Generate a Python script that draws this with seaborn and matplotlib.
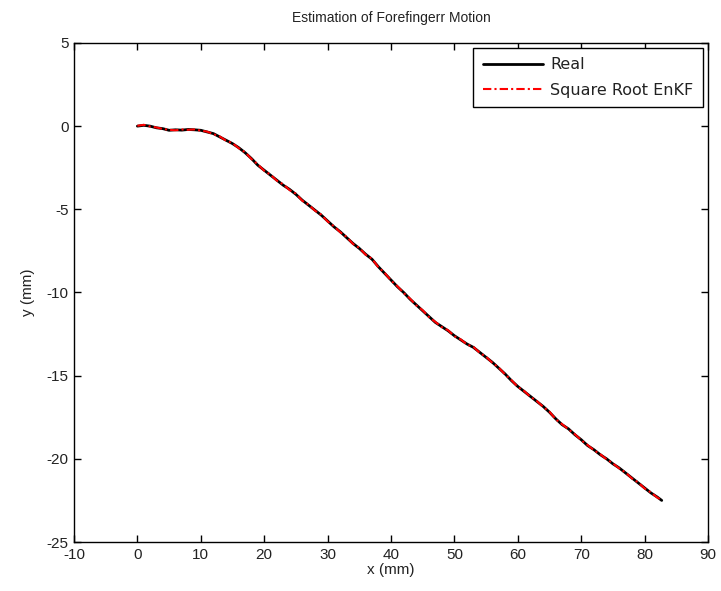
import numpy as np
import pandas as pd
import matplotlib
matplotlib.use("Agg")
import matplotlib.pyplot as plt
import seaborn as sns

# Data (x, y in mm)

x_real = [0, 1, 2, 3, 4, 5, 6, 7, 8, 9, 10, 11, 12, 13, 14, 15, 16, 17, 18, 19,
          20, 21, 22, 23, 24, 25, 26, 27, 28, 29, 30, 31, 32, 33, 34, 35, 36, 37, 38, 39,
          40, 41, 42, 43, 44, 45, 46, 47, 48, 49, 50, 51, 52, 53, 54, 55, 56, 57, 58, 59,
          60, 61, 62, 63, 64, 65, 66, 67, 68, 69, 70, 71, 72, 73, 74, 75, 76, 77, 78, 79,
          80, 81, 82, 82.7]

y_real = [0.0, 0.05, 0.0, -0.1, -0.15, -0.25, -0.22, -0.24, -0.2, -0.22,
          -0.25, -0.35, -0.45, -0.65, -0.85, -1.05, -1.3, -1.6, -1.95, -2.35,
          -2.65, -2.95, -3.25, -3.55, -3.8, -4.1, -4.45, -4.75, -5.05, -5.35,
          -5.7, -6.05, -6.35, -6.7, -7.05, -7.35, -7.7, -8.0, -8.45, -8.85,
          -9.25, -9.65, -10.0, -10.4, -10.75, -11.1, -11.45, -11.8, -12.05, -12.3,
          -12.6, -12.85, -13.1, -13.3, -13.6, -13.9, -14.2, -14.55, -14.9, -15.3,
          -15.65, -15.95, -16.25, -16.55, -16.85, -17.2, -17.6, -17.95, -18.2, -18.55,
          -18.85, -19.2, -19.45, -19.75, -20.0, -20.3, -20.55, -20.85, -21.15, -21.45,
          -21.75, -22.05, -22.3, -22.5]

x_est = x_real

y_est = [0.02, 0.08, -0.02, -0.08, -0.17, -0.22, -0.25, -0.2, -0.22, -0.2,
         -0.27, -0.33, -0.48, -0.62, -0.88, -1.02, -1.33, -1.57, -1.98, -2.3,
         -2.68, -2.92, -3.28, -3.5, -3.84, -4.06, -4.48, -4.72, -5.08, -5.32,
         -5.73, -6.02, -6.38, -6.66, -7.08, -7.32, -7.73, -7.97, -8.48, -8.82,
         -9.28, -9.62, -10.03, -10.37, -10.78, -11.07, -11.48, -11.77, -12.08, -12.27,
         -12.63, -12.82, -13.13, -13.27, -13.63, -13.87, -14.23, -14.52, -14.93, -15.27,
         -15.68, -15.92, -16.28, -16.52, -16.88, -17.17, -17.63, -17.92, -18.23, -18.52,
         -18.88, -19.17, -19.48, -19.72, -20.03, -20.27, -20.58, -20.82, -21.18, -21.42,
         -21.78, -22.02, -22.33, -22.48]

x_ticks = [-10, 0, 10, 20, 30, 40, 50, 60, 70, 80, 90]
y_ticks = [-25, -20, -15, -10, -5, 0, 5]

df_real = pd.DataFrame({"x": x_real, "y": y_real})
df_est = pd.DataFrame({"x": x_est, "y": y_est})

sns.set_style("ticks")
plt.rcParams["font.family"] = ["Liberation Sans", "DejaVu Sans"]
plt.rcParams["axes.unicode_minus"] = False

fig = plt.figure(figsize=(7.21, 5.91), dpi=100)
ax = fig.add_axes([0.1026, 0.0829, 0.8794, 0.8444])

sns.lineplot(data=df_real, x="x", y="y", sort=False, estimator=None,
             color="black", linewidth=2.0, label="Real", ax=ax)
sns.lineplot(data=df_est, x="x", y="y", sort=False, estimator=None,
             color="red", linewidth=1.5, label="Square Root EnKF", ax=ax)
ax.lines[1].set_dashes([4, 1.5, 1, 1.5])

ax.set_xlim(-10, 90)
ax.set_ylim(-25, 5)
ax.set_xticks(x_ticks)
ax.set_yticks(y_ticks)
ax.tick_params(direction="in", top=True, right=True, length=5, width=1,
               labelsize=11, color="black", labelcolor="#222222", pad=4)
for s in ax.spines.values():
    s.set_visible(True)
    s.set_color("black")
    s.set_linewidth(1.0)

ax.set_xlabel("x (mm)", fontsize=11, labelpad=1, color="#222222")
ax.set_ylabel("y (mm)", fontsize=11, labelpad=8, color="#222222")
ax.set_title("Estimation of Forefingerr Motion", fontsize=10, pad=15, color="#222222")

leg = ax.legend(loc="upper right", frameon=True, fancybox=False,
                prop={"family": "DejaVu Sans", "size": 11.5},
                edgecolor="black", handlelength=3.8, borderaxespad=0.3,
                borderpad=0.6, labelspacing=0.65, handletextpad=0.45)
leg.get_frame().set_linewidth(1.0)
leg.get_frame().set_alpha(1.0)
for t in leg.get_texts():
    t.set_color("#222222")

fig.savefig("out.png", dpi=100)
